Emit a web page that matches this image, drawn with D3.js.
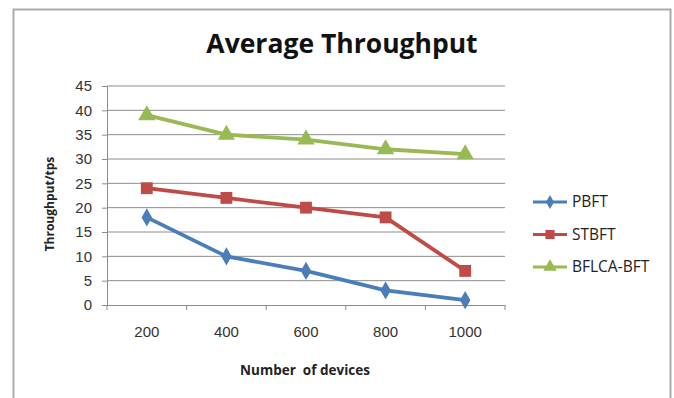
<!DOCTYPE html>
<html>
<head>
<meta charset="utf-8">
<script src="https://cdn.jsdelivr.net/npm/d3@7"></script>
<style>
body { margin: 0; background: #fff; }
svg { display: block; font-family: "Open Sans", Lato, sans-serif; }
</style>
</head>
<body>
<svg width="674" height="398"></svg>
<script>
var devices = ["200", "400", "600", "800", "1000"];
var pbft = [18, 10, 7, 3, 1];
var stbft = [24, 22, 20, 18, 7];
var bflca = [39, 35, 34, 32, 31];
var yTicks = [0, 5, 10, 15, 20, 25, 30, 35, 40, 45];

var series = [
  { name: "PBFT", values: pbft, color: "#4a7ebb", marker: d3.symbolDiamond },
  { name: "STBFT", values: stbft, color: "#be4b48", marker: d3.symbolSquare },
  { name: "BFLCA-BFT", values: bflca, color: "#98b954", marker: d3.symbolTriangle }
];

var svg = d3.select("svg");

// outer frame
svg.append("rect")
  .attr("x", 13.5).attr("y", 9.5)
  .attr("width", 657).attr("height", 400)
  .attr("fill", "none").attr("stroke", "#ababab").attr("stroke-width", 2);

var margin = { top: 86, left: 107 },
    width = 398, height = 219;

var x = d3.scaleBand().domain(devices).range([0, width]);
var y = d3.scaleLinear().domain([0, 45]).range([height, 0]);

var g = svg.append("g").attr("transform", "translate(" + margin.left + "," + margin.top + ")");

// gridlines
g.selectAll(".grid").data(yTicks.slice(1)).enter().append("line")
  .attr("x1", 0).attr("x2", width)
  .attr("y1", function(d) { return y(d); }).attr("y2", function(d) { return y(d); })
  .attr("stroke", "#8c8c8c").attr("stroke-width", 1);

// y axis
var yAxis = g.append("g")
  .call(d3.axisLeft(y).tickValues(yTicks).tickSize(5).tickPadding(10));
yAxis.select(".domain").attr("stroke", "#8c8c8c");
yAxis.selectAll(".tick line").attr("stroke", "#8c8c8c");
yAxis.selectAll("text").attr("font-size", 15).attr("fill", "#333");

// x axis
var xAxis = g.append("g")
  .attr("transform", "translate(0," + height + ")")
  .call(d3.axisBottom(x).tickSize(0).tickPadding(21));
xAxis.select(".domain").attr("stroke", "#8c8c8c");
xAxis.selectAll("text").attr("font-size", 15).attr("fill", "#333");
g.selectAll(".xtick").data(d3.range(devices.length + 1)).enter().append("line")
  .attr("x1", function(i) { return i * x.step(); })
  .attr("x2", function(i) { return i * x.step(); })
  .attr("y1", height).attr("y2", height + 5)
  .attr("stroke", "#8c8c8c");

// lines and markers
var line = d3.line()
  .x(function(d, i) { return x(devices[i]) + x.bandwidth() / 2; })
  .y(function(d) { return y(d); });

var markerSize = function(m) { return m === d3.symbolDiamond ? 95 : m === d3.symbolSquare ? 140 : 130; };

series.forEach(function(s) {
  g.append("path")
    .datum(s.values)
    .attr("d", line)
    .attr("fill", "none")
    .attr("stroke", s.color)
    .attr("stroke-width", 3.8)
    .attr("stroke-linejoin", "round");
  g.selectAll(".m-" + s.name).data(s.values).enter().append("path")
    .attr("d", d3.symbol().type(s.marker).size(markerSize(s.marker)))
    .attr("transform", function(d, i) {
      return "translate(" + (x(devices[i]) + x.bandwidth() / 2) + "," + y(d) + ")";
    })
    .attr("fill", s.color);
});

// title
svg.append("text")
  .attr("x", 342).attr("y", 53)
  .attr("text-anchor", "middle")
  .attr("font-size", 26.5).attr("font-weight", "bold").attr("fill", "#111")
  .text("Average Throughput");

// axis titles
svg.append("text")
  .attr("transform", "translate(54,204) rotate(-90)")
  .attr("text-anchor", "middle")
  .attr("font-size", 12).attr("font-weight", "bold").attr("fill", "#222")
  .text("Throughput/tps");

svg.append("text")
  .attr("x", 305).attr("y", 375)
  .attr("text-anchor", "middle")
  .attr("font-size", 13.5).attr("font-weight", "bold").attr("fill", "#222")
  .style("white-space", "pre")
  .text("Number  of devices");

// legend
var legend = svg.append("g");
series.forEach(function(s, i) {
  var ly = 202 + i * 32.5;
  legend.append("line")
    .attr("x1", 533).attr("x2", 567)
    .attr("y1", ly).attr("y2", ly)
    .attr("stroke", s.color).attr("stroke-width", 3);
  legend.append("path")
    .attr("d", d3.symbol().type(s.marker).size(markerSize(s.marker) * 0.6))
    .attr("transform", "translate(550," + ly + ")")
    .attr("fill", s.color);
  legend.append("text")
    .attr("x", 572).attr("y", ly + 5)
    .attr("font-size", 15.5).attr("fill", "#222")
    .text(s.name);
});
</script>
</body>
</html>
